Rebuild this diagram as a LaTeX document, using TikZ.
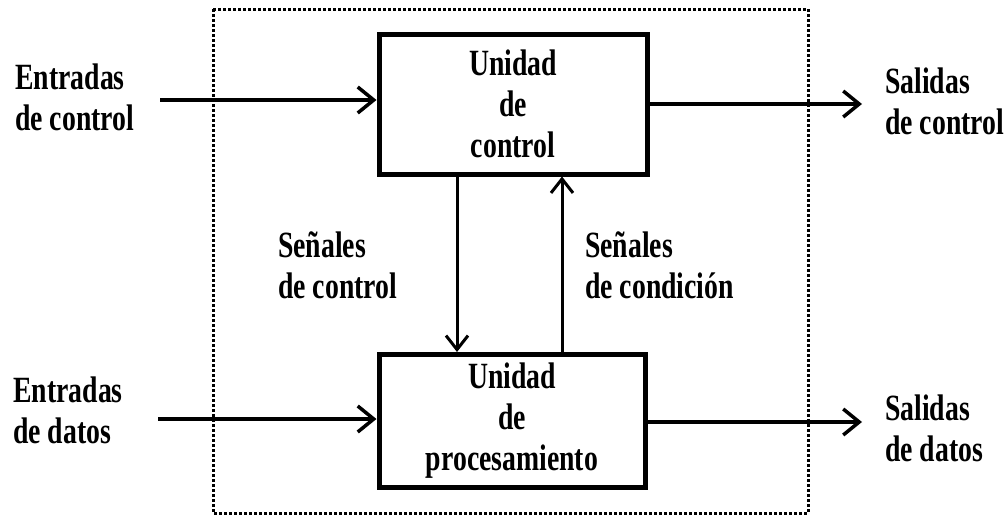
\documentclass[tikz,border=0pt]{standalone}
\usepackage{fontspec}
\setmainfont[FakeStretch=0.75]{Liberation Serif}
\usetikzlibrary{arrows.meta}

\begin{document}
\begin{tikzpicture}[x=1pt,y=-1pt,
  font=\fontsize{37}{41}\selectfont\bfseries,
  unit/.style={draw,line width=5pt,minimum width=268pt,minimum height=140pt,align=center,inner sep=0pt},
  lbl/.style={align=left,inner sep=0pt},
  flow/.style={line width=3.5pt,-{Straight Barb[length=16pt,width=26pt,line width=3.5pt]}},
  sig/.style={line width=3pt,-{Straight Barb[length=14pt,width=22pt,line width=3pt]}}]
\useasboundingbox (0,0) rectangle (1007,522);

% dotted frame
\draw[line width=3pt,dash pattern=on 3pt off 2pt] (213,9) rectangle (808,513);

\node[unit] (cu) at (513,104) {Unidad\\de\\control};
\node[unit,minimum width=266pt,minimum height=133pt] (pu) at (512,421) {Unidad\\de\\procesamiento};

\node[lbl,anchor=west] (ectl) at (15,97) {Entradas\\de control};
\node[lbl,anchor=west] (edat) at (13,410) {Entradas\\de datos};
\node[lbl,anchor=west] (sctl) at (885,101) {Salidas\\de control};
\node[lbl,anchor=west] (sdat) at (885,428) {Salidas\\de datos};
\node[lbl,anchor=west] (senc) at (278,265) {Señales\\de control};
\node[lbl,anchor=west] (senk) at (585,265) {Señales\\de condición};

\coordinate (inc) at (160,100);
\coordinate (ind) at (158,419);
\coordinate (outc) at (862,104);
\coordinate (outd) at (862,422);

\draw[flow] (inc) -- (inc -| cu.west);
\draw[flow] (ind) -- (ind -| pu.west);
\draw[flow] (outc -| cu.east) -- (outc);
\draw[flow] (outd -| pu.east) -- (outd);

\draw[sig] ([xshift=-56pt]cu.south) -- ([xshift=-55pt]pu.north);
\draw[sig] ([xshift=50pt]pu.north) -- ([xshift=49pt]cu.south);
\end{tikzpicture}
\end{document}
